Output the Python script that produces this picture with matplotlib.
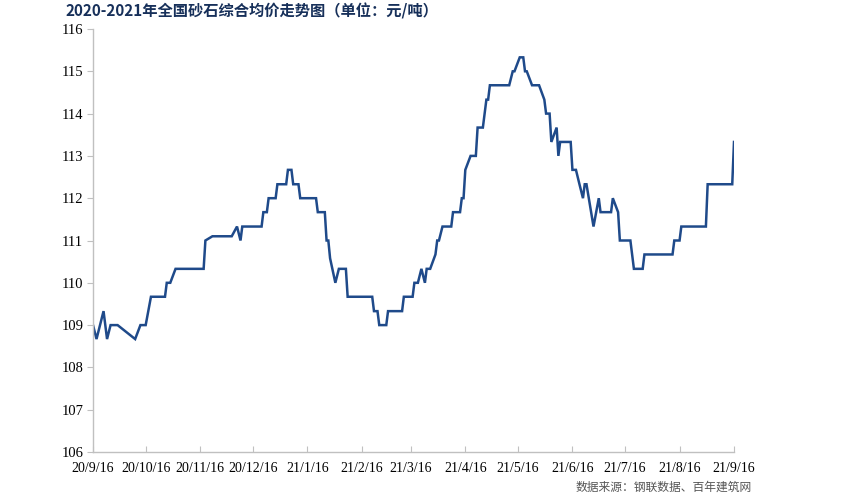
import matplotlib.pyplot as plt
import pandas as pd

plt.rcParams['font.family'] = ['Liberation Serif', 'DejaVu Sans']

dates = [
    "2020-09-16", "2020-09-18", "2020-09-22", "2020-09-24", "2020-09-26", "2020-09-30",
    "2020-10-10", "2020-10-13", "2020-10-16", "2020-10-19", "2020-10-27", "2020-10-28",
    "2020-10-30", "2020-11-02", "2020-11-18", "2020-11-19", "2020-11-23", "2020-12-04",
    "2020-12-07", "2020-12-09", "2020-12-10", "2020-12-21", "2020-12-22", "2020-12-24",
    "2020-12-25", "2020-12-29", "2020-12-30", "2021-01-04", "2021-01-05", "2021-01-07",
    "2021-01-08", "2021-01-11", "2021-01-12", "2021-01-21", "2021-01-22", "2021-01-26",
    "2021-01-27", "2021-01-28", "2021-01-29", "2021-02-01", "2021-02-03", "2021-02-07",
    "2021-02-08", "2021-02-22", "2021-02-23", "2021-02-25", "2021-02-26", "2021-03-02",
    "2021-03-03", "2021-03-11", "2021-03-12", "2021-03-17", "2021-03-18", "2021-03-20",
    "2021-03-22", "2021-03-24", "2021-03-25", "2021-03-27", "2021-03-30", "2021-03-31",
    "2021-04-01", "2021-04-03", "2021-04-08", "2021-04-09", "2021-04-13", "2021-04-14",
    "2021-04-15", "2021-04-16", "2021-04-19", "2021-04-22", "2021-04-23", "2021-04-26",
    "2021-04-28", "2021-04-29", "2021-04-30", "2021-05-11", "2021-05-13", "2021-05-14",
    "2021-05-17", "2021-05-19", "2021-05-20", "2021-05-21", "2021-05-24", "2021-05-28",
    "2021-05-31", "2021-06-01", "2021-06-03", "2021-06-04", "2021-06-07", "2021-06-08",
    "2021-06-09", "2021-06-15", "2021-06-16", "2021-06-18", "2021-06-20", "2021-06-22",
    "2021-06-23", "2021-06-24", "2021-06-28", "2021-07-01", "2021-07-02", "2021-07-08",
    "2021-07-09", "2021-07-12", "2021-07-13", "2021-07-19", "2021-07-21", "2021-07-26",
    "2021-07-27", "2021-08-12", "2021-08-13", "2021-08-16", "2021-08-17", "2021-08-31",
    "2021-09-01", "2021-09-15", "2021-09-16",
]

prices = [
    109.00, 108.67, 109.33, 108.67, 109.00, 109.00,
    108.67, 109.00, 109.00, 109.67, 109.67, 110.00,
    110.00, 110.33, 110.33, 111.00, 111.10, 111.10,
    111.33, 111.00, 111.33, 111.33, 111.67, 111.67,
    112.00, 112.00, 112.33, 112.33, 112.67, 112.67,
    112.33, 112.33, 112.00, 112.00, 111.67, 111.67,
    111.00, 111.00, 110.58, 110.00, 110.33, 110.33,
    109.67, 109.67, 109.33, 109.33, 109.00, 109.00,
    109.33, 109.33, 109.67, 109.67, 110.00, 110.00,
    110.33, 110.00, 110.33, 110.33, 110.67, 111.00,
    111.00, 111.33, 111.33, 111.67, 111.67, 112.00,
    112.00, 112.67, 113.00, 113.00, 113.67, 113.67,
    114.33, 114.33, 114.67, 114.67, 115.00, 115.00,
    115.33, 115.33, 115.00, 115.00, 114.67, 114.67,
    114.33, 114.00, 114.00, 113.33, 113.67, 113.00,
    113.33, 113.33, 112.67, 112.67, 112.33, 112.00,
    112.33, 112.33, 111.33, 112.00, 111.67, 111.67,
    112.00, 111.67, 111.00, 111.00, 110.33, 110.33,
    110.67, 110.67, 111.00, 111.00, 111.33, 111.33,
    112.33, 112.33, 113.33,
]

tick_dates = [
    "2020-09-16", "2020-10-16", "2020-11-16", "2020-12-16", "2021-01-16", "2021-02-16",
    "2021-03-16", "2021-04-16", "2021-05-16", "2021-06-16", "2021-07-16", "2021-08-16",
    "2021-09-16",
]
tick_labels = [
    "20/9/16", "20/10/16", "20/11/16", "20/12/16", "21/1/16", "21/2/16",
    "21/3/16", "21/4/16", "21/5/16", "21/6/16", "21/7/16", "21/8/16", "21/9/16",
]

x = pd.to_datetime(dates)
ticks = pd.to_datetime(tick_dates)

fig = plt.figure(figsize=(8.43, 4.95), dpi=100)
ax = fig.add_axes([93 / 843, 1 - 452 / 495, (734 - 93) / 843, (452 - 29) / 495])

ax.plot(x, prices, color="#1f4a8a", linewidth=1.8, solid_joinstyle="miter")

ax.set_xlim(ticks[0], ticks[-1])
ax.set_ylim(106, 116)
ax.set_yticks(range(106, 117))
ax.set_xticks(ticks)
ax.set_xticklabels(tick_labels)

for side in ("top", "right"):
    ax.spines[side].set_visible(False)
for side in ("left", "bottom"):
    ax.spines[side].set_color("#c0c0c0")
    ax.spines[side].set_linewidth(1.0)

ax.tick_params(axis="y", direction="out", length=4, color="#c0c0c0", labelsize=10.5, pad=3)
ax.tick_params(axis="x", direction="in", length=4, color="#c0c0c0", labelsize=10, pad=7)

fig.text(65 / 843, 1 - 11 / 495, "2020-2021年全国砂石综合均价走势图（单位：元/吨）",
         family=["Noto Sans CJK SC", "DejaVu Sans"], fontsize=11, fontweight="bold",
         color="#17305a", ha="left", va="center")
fig.text(752 / 843, 1 - 487 / 495, "数据来源：钢联数据、百年建筑网",
         family=["Noto Sans CJK SC", "DejaVu Sans"], fontsize=8.5, color="#555555",
         ha="right", va="center")

fig.savefig("out.png", dpi=100)
